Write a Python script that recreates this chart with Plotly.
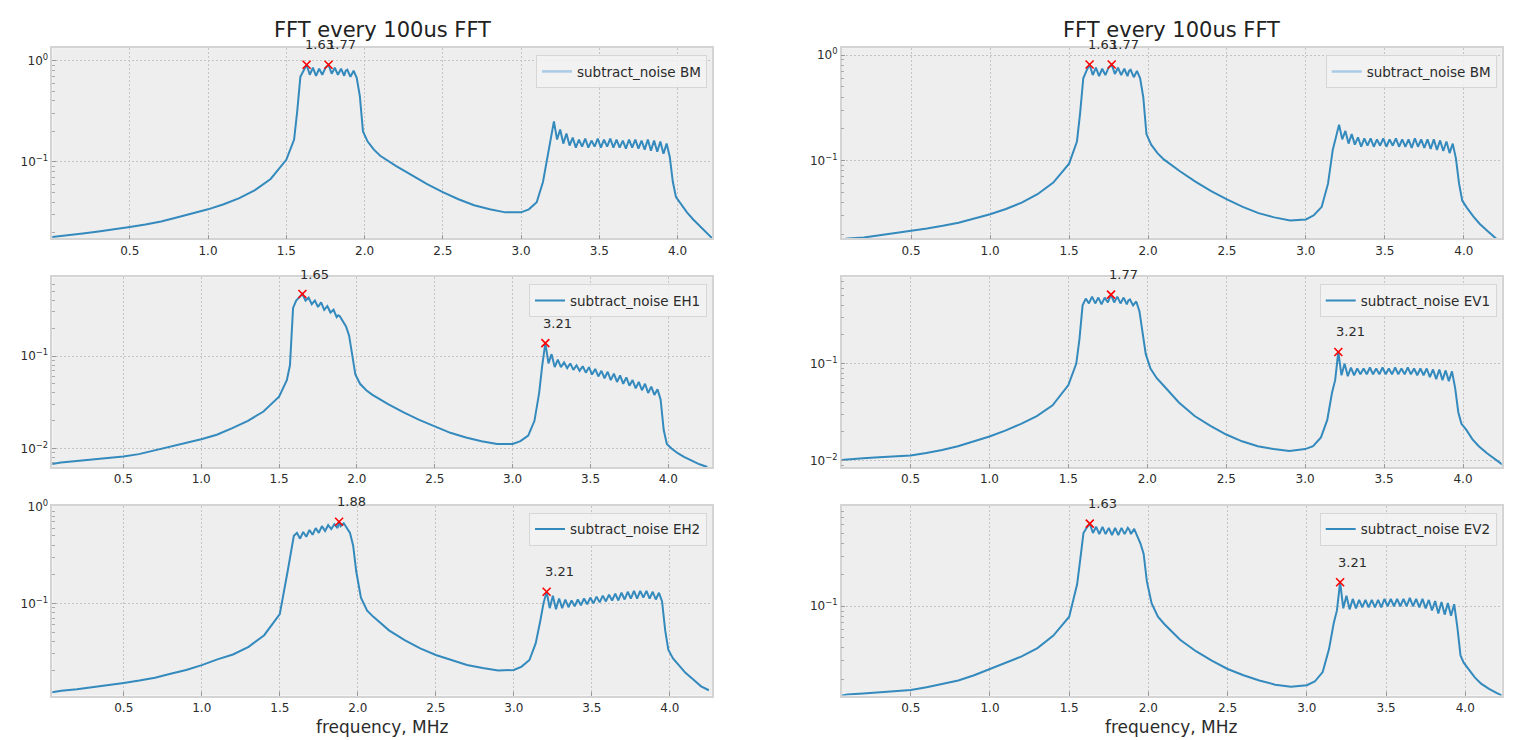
import math
import plotly.graph_objects as go

# ---------------- data ----------------
# frequency grid, MHz
freq = [0.0, 0.1, 0.2, 0.3, 0.4, 0.5, 0.6, 0.7, 0.8, 0.9, 1.0, 1.1, 1.2, 1.3, 1.4, 1.5, 1.55, 1.57,
        1.59, 1.61, 1.63, 1.65, 1.67, 1.69, 1.71, 1.73, 1.75, 1.77, 1.79, 1.81, 1.83, 1.85, 1.87, 1.88, 1.89,
        1.91, 1.93, 1.95, 1.97,
        1.99, 2.02, 2.06, 2.1, 2.2, 2.3, 2.4, 2.5, 2.6, 2.7, 2.8, 2.9, 3.0, 3.05, 3.1, 3.14, 3.17,
        3.19, 3.21, 3.23, 3.25, 3.27, 3.29, 3.31, 3.33, 3.35, 3.37, 3.39, 3.41, 3.43, 3.45, 3.47, 3.49,
        3.51, 3.53, 3.55, 3.57, 3.59, 3.61, 3.63, 3.65, 3.67, 3.69, 3.71, 3.73, 3.75, 3.77, 3.79, 3.81,
        3.83, 3.85, 3.87, 3.89, 3.91, 3.93, 3.95,
        3.97, 3.99, 4.02, 4.06, 4.1, 4.15, 4.2, 4.25]

# spectra, stored as log10 of the amplitude
bm_left_log10 = [
    -1.745, -1.73, -1.71, -1.69, -1.67, -1.645, -1.62, -1.59, -1.55, -1.51, -1.47, -1.42, -1.36, -1.28, -1.17, -0.98, -0.78, -0.50,
    -0.16, -0.10, -0.04, -0.14, -0.07, -0.15, -0.08, -0.14, -0.07, -0.04, -0.13, -0.07, -0.14, -0.08, -0.15, -0.10, -0.09, -0.16, -0.10, -0.17, -0.35,
    -0.70, -0.80, -0.88, -0.94, -1.04, -1.13, -1.22, -1.30, -1.37, -1.43, -1.47, -1.50, -1.50, -1.47, -1.40, -1.20, -0.95,
    -0.75, -0.60, -0.78, -0.68, -0.82, -0.72, -0.84, -0.76, -0.86, -0.78, -0.85, -0.77, -0.86, -0.79, -0.85, -0.77, -0.86, -0.78, -0.85, -0.77,
    -0.86, -0.78, -0.86, -0.79, -0.87, -0.78, -0.86, -0.78, -0.87, -0.79, -0.88, -0.78, -0.89, -0.79, -0.90, -0.80, -0.92, -0.82, -0.95,
    -1.20, -1.35, -1.42, -1.50, -1.57, -1.65, -1.73, -1.80]
bm_right_log10 = [
    -1.76, -1.74, -1.73, -1.71, -1.69, -1.67, -1.645, -1.62, -1.59, -1.55, -1.51, -1.46, -1.40, -1.32, -1.21, -1.03, -0.82, -0.55,
    -0.22, -0.15, -0.09, -0.19, -0.12, -0.20, -0.13, -0.19, -0.12, -0.09, -0.18, -0.12, -0.19, -0.13, -0.20, -0.15, -0.14, -0.21, -0.15, -0.22, -0.40,
    -0.75, -0.85, -0.93, -0.99, -1.10, -1.20, -1.29, -1.37, -1.44, -1.50, -1.54, -1.57, -1.56, -1.52, -1.44, -1.22, -0.90,
    -0.78, -0.66, -0.80, -0.72, -0.84, -0.75, -0.85, -0.78, -0.87, -0.79, -0.86, -0.79, -0.87, -0.80, -0.86, -0.79, -0.87, -0.80, -0.86, -0.79,
    -0.87, -0.80, -0.87, -0.80, -0.88, -0.79, -0.87, -0.80, -0.88, -0.80, -0.89, -0.80, -0.90, -0.81, -0.91, -0.82, -0.93, -0.84, -0.98,
    -1.22, -1.38, -1.45, -1.53, -1.60, -1.67, -1.74, -1.80]
eh1_log10 = [
    -2.18, -2.15, -2.135, -2.12, -2.10, -2.086, -2.06, -2.02, -1.98, -1.94, -1.90, -1.85, -1.78, -1.70, -1.60, -1.44, -1.26, -1.10,
    -0.48, -0.40, -0.37, -0.33, -0.40, -0.37, -0.44, -0.40, -0.47, -0.42, -0.50, -0.46, -0.53, -0.50, -0.58, -0.56, -0.57, -0.62, -0.68, -0.78, -1.00,
    -1.20, -1.30, -1.37, -1.42, -1.52, -1.61, -1.69, -1.76, -1.83, -1.88, -1.92, -1.95, -1.95, -1.92, -1.86, -1.70, -1.40,
    -1.10, -0.86, -1.08, -0.98, -1.12, -1.04, -1.12, -1.07, -1.13, -1.08, -1.15, -1.10, -1.16, -1.11, -1.18, -1.12, -1.20, -1.14, -1.22, -1.16,
    -1.24, -1.17, -1.26, -1.19, -1.28, -1.21, -1.30, -1.23, -1.32, -1.26, -1.35, -1.28, -1.37, -1.30, -1.40, -1.33, -1.42, -1.36, -1.47,
    -1.80, -1.95, -2.00, -2.05, -2.09, -2.13, -2.17, -2.20]
ev1_log10 = [
    -2.00, -1.985, -1.975, -1.965, -1.955, -1.945, -1.92, -1.89, -1.85, -1.80, -1.75, -1.69, -1.62, -1.54, -1.43, -1.22, -1.00, -0.75,
    -0.40, -0.33, -0.38, -0.31, -0.38, -0.32, -0.39, -0.32, -0.37, -0.29, -0.37, -0.31, -0.38, -0.32, -0.39, -0.35, -0.34, -0.40, -0.36, -0.46, -0.70,
    -0.90, -1.05, -1.15, -1.22, -1.40, -1.54, -1.64, -1.73, -1.80, -1.85, -1.88, -1.90, -1.88, -1.85, -1.76, -1.58, -1.30,
    -1.17, -0.88, -1.12, -1.00, -1.13, -1.04, -1.12, -1.05, -1.11, -1.05, -1.11, -1.04, -1.11, -1.05, -1.11, -1.04, -1.11, -1.05, -1.11, -1.04,
    -1.11, -1.05, -1.11, -1.04, -1.11, -1.05, -1.12, -1.05, -1.12, -1.05, -1.14, -1.06, -1.16, -1.06, -1.17, -1.07, -1.18, -1.08, -1.25,
    -1.50, -1.62, -1.68, -1.78, -1.85, -1.92, -1.98, -2.04]
eh2_log10 = [
    -1.93, -1.905, -1.89, -1.87, -1.85, -1.825, -1.80, -1.77, -1.73, -1.69, -1.64, -1.58, -1.53, -1.45, -1.33, -1.11, -0.67, -0.48,
    -0.30, -0.27, -0.33, -0.26, -0.31, -0.24, -0.29, -0.22, -0.27, -0.20, -0.25, -0.19, -0.23, -0.18, -0.22, -0.155, -0.20, -0.17, -0.22, -0.27, -0.40,
    -0.67, -0.94, -1.075, -1.14, -1.28, -1.38, -1.467, -1.535, -1.59, -1.638, -1.67, -1.696, -1.69, -1.655, -1.587, -1.415, -1.177,
    -1.00, -0.88, -1.05, -0.92, -1.06, -0.95, -1.05, -0.96, -1.04, -0.97, -1.03, -0.96, -1.02, -0.95, -1.01, -0.94, -1.00, -0.93, -0.99, -0.92,
    -0.98, -0.91, -0.97, -0.90, -0.97, -0.89, -0.96, -0.88, -0.95, -0.87, -0.95, -0.87, -0.94, -0.87, -0.95, -0.88, -0.96, -0.89, -0.98,
    -1.28, -1.48, -1.57, -1.65, -1.72, -1.79, -1.86, -1.90]
ev2_log10 = [
    -1.87, -1.845, -1.835, -1.825, -1.81, -1.80, -1.775, -1.745, -1.71, -1.66, -1.60, -1.54, -1.48, -1.40, -1.28, -1.10, -0.79, -0.55,
    -0.30, -0.25, -0.21, -0.30, -0.24, -0.31, -0.24, -0.31, -0.25, -0.32, -0.25, -0.32, -0.25, -0.31, -0.25, -0.27, -0.31, -0.26, -0.33, -0.40, -0.50,
    -0.76, -0.97, -1.10, -1.17, -1.32, -1.43, -1.52, -1.60, -1.66, -1.71, -1.75, -1.77, -1.755, -1.72, -1.63, -1.41, -1.16,
    -1.04, -0.77, -1.02, -0.90, -1.03, -0.93, -1.02, -0.94, -1.01, -0.94, -1.01, -0.94, -1.01, -0.94, -1.01, -0.93, -1.00, -0.93, -1.00, -0.93,
    -1.00, -0.93, -1.00, -0.92, -1.00, -0.93, -1.01, -0.93, -1.02, -0.94, -1.04, -0.95, -1.07, -0.96, -1.08, -0.97, -1.09, -0.98, -1.20,
    -1.47, -1.54, -1.60, -1.68, -1.74, -1.79, -1.83, -1.87]

# detected peak frequencies (red crosses)
peaks_bm_left = [1.63, 1.77]
peaks_bm_right = [1.63, 1.77]
peaks_eh1 = [1.65, 3.21]
peaks_ev1 = [1.77, 3.21]
peaks_eh2 = [1.88, 3.21]
peaks_ev2 = [1.63, 3.21]

series_labels = ["subtract_noise BM", "subtract_noise BM", "subtract_noise EH1",
                 "subtract_noise EV1", "subtract_noise EH2", "subtract_noise EV2"]
x_tick_vals = [0.5, 1.0, 1.5, 2.0, 2.5, 3.0, 3.5, 4.0]
y_tick_vals = [1.0, 0.1, 0.01]
y_tick_text = ["10<sup>0</sup>", "10<sup>\u22121</sup>", "10<sup>\u22122</sup>"]
title_text = "FFT every 100us FFT"
xlabel_text = "frequency, MHz"

series_log10 = [bm_left_log10, bm_right_log10, eh1_log10, ev1_log10, eh2_log10, ev2_log10]
peaks = [peaks_bm_left, peaks_bm_right, peaks_eh1, peaks_ev1, peaks_eh2, peaks_ev2]
for s in series_log10:
    if len(s) != len(freq):
        raise ValueError("length mismatch %d vs %d" % (len(s), len(freq)))

# ---------------- layout / style ----------------
W, H = 1522, 740
col_px = [(52.3, 712.0), (841.7, 1501.7)]
row_px = [(40.7, 233.3), (272.7, 465.0), (504.0, 696.0)]
x_ranges = [(0.005, 4.22), (0.06, 4.24), (0.044, 4.28), (0.064, 4.245), (0.042, 4.27), (0.064, 4.23)]
y_ranges = [(-1.758, 0.123), (-1.74, 0.065), (-2.203, -0.150), (-2.068, -0.112), (-1.955, 0.01), (-1.854, -0.04)]

LINE = "#348ABD"
FONT = "DejaVu Sans"
TXT = "#2b2b2b"
GRID = "#c4c4c4"

minor_vals = [k * 10.0 ** e for e in (-3, -2, -1, 0) for k in range(2, 10)]

fig = go.Figure()
layout = dict(width=W, height=H, margin=dict(l=0, r=0, t=0, b=0),
              paper_bgcolor="white", plot_bgcolor="#eeeeee",
              font=dict(family=FONT, color=TXT, size=12), annotations=[])

for i in range(6):
    r, c = divmod(i, 2)
    n = i + 1
    xa = "x" if n == 1 else "x%d" % n
    ya = "y" if n == 1 else "y%d" % n
    xkey = "xaxis" if n == 1 else "xaxis%d" % n
    ykey = "yaxis" if n == 1 else "yaxis%d" % n
    lkey = "legend" if n == 1 else "legend%d" % n
    (x0, x1), (y0, y1) = col_px[c], row_px[r]

    vals = [10.0 ** v for v in series_log10[i]]
    top_row = (r == 0)
    fig.add_trace(go.Scatter(x=freq, y=vals, mode="lines", name=series_labels[i],
                             line=dict(color=LINE, width=2), xaxis=xa, yaxis=ya,
                             legend=lkey, showlegend=not top_row, hoverinfo="x+y"))
    if top_row:
        fig.add_trace(go.Scatter(x=[None], y=[None], mode="lines", name=series_labels[i],
                                 line=dict(color="#a9cbe6", width=2.5), xaxis=xa, yaxis=ya,
                                 legend=lkey, showlegend=True))
    pv = [vals[freq.index(p)] for p in peaks[i]]
    fig.add_trace(go.Scatter(x=peaks[i], y=pv, mode="markers", showlegend=False,
                             marker=dict(symbol="x-thin", size=8, line=dict(color="red", width=1.6)),
                             xaxis=xa, yaxis=ya))
    for p, v in zip(peaks[i], pv):
        layout["annotations"].append(dict(x=p, y=math.log10(v), xref=xa, yref=ya, text="%.2f" % p,
                                          showarrow=False, xanchor="left", yanchor="middle",
                                          xshift=-4, yshift=20, font=dict(size=13, color=TXT)))

    layout[xkey] = dict(domain=[x0 / W, x1 / W], range=list(x_ranges[i]), anchor=ya,
                        tickmode="array", tickvals=x_tick_vals, tickformat=".1f",
                        ticks="inside", ticklen=4, tickcolor="#999999",
                        showgrid=True, gridcolor=GRID, griddash="2px,2px", gridwidth=1,
                        zeroline=False, showline=True, linecolor="#d4d4d4", linewidth=1.5, mirror=True,
                        tickfont=dict(size=12, color=TXT))
    layout[ykey] = dict(domain=[1 - y1 / H, 1 - y0 / H], type="log", range=list(y_ranges[i]), anchor=xa,
                        tickmode="array", tickvals=y_tick_vals, ticktext=y_tick_text,
                        ticks="inside", ticklen=4, tickcolor="#999999",
                        minor=dict(tickmode="array", tickvals=minor_vals, ticks="inside", ticklen=2.5,
                                   tickcolor="#aaaaaa", showgrid=False),
                        showgrid=True, gridcolor=GRID, griddash="2px,2px", gridwidth=1,
                        zeroline=False, showline=True, linecolor="#d4d4d4", linewidth=1.5, mirror=True,
                        tickfont=dict(size=12, color=TXT))
    layout[lkey] = dict(x=(x1 - 5) / W, y=1 - (y0 + 7) / H, xanchor="right", yanchor="top",
                        bgcolor="rgba(242,242,242,0.85)", bordercolor="#d6d6d6", borderwidth=1,
                        font=dict(size=13.5, color=TXT), itemwidth=30)

for c in range(2):
    cx = (col_px[c][0] + col_px[c][1]) / 2 / W
    layout["annotations"].append(dict(x=cx, y=1 - 22 / H, xref="paper", yref="paper", text=title_text,
                                      showarrow=False, xanchor="center", yanchor="middle",
                                      font=dict(size=21, color="#222222")))
    layout["annotations"].append(dict(x=cx, y=1 - 728 / H, xref="paper", yref="paper", text=xlabel_text,
                                      showarrow=False, xanchor="center", yanchor="middle",
                                      font=dict(size=17, color=TXT)))

fig.update_layout(**layout)
fig.write_html("out.html")
